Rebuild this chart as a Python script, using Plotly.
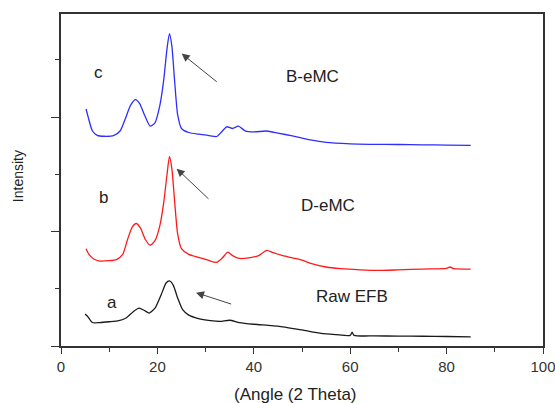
import plotly.graph_objects as go

# XRD patterns: diffraction angle (2 theta, degrees) vs offset intensity (a.u.)
raw_x = [5.0, 5.5, 6.5, 8, 10, 12, 13.5, 15, 16.2, 17.3, 18.3, 19.5, 20.8, 21.8, 22.5,
         23.3, 24.2, 25.2, 26.5, 28.5, 31, 33, 35, 37, 40, 43, 46, 50, 54, 57, 60,
         60.4, 60.8, 65, 70, 75, 80, 85]
raw_y = [0.28, 0.26, 0.205, 0.205, 0.212, 0.222, 0.245, 0.30, 0.33, 0.31, 0.288, 0.33,
         0.45, 0.55, 0.568, 0.53, 0.42, 0.32, 0.27, 0.24, 0.222, 0.215, 0.225, 0.205,
         0.19, 0.18, 0.168, 0.14, 0.11, 0.10, 0.093, 0.12, 0.093, 0.088, 0.087, 0.085,
         0.083, 0.08]

d_x = [5.2, 5.8, 6.8, 8, 10, 11.5, 12.8, 13.8, 14.8, 15.6, 16.5, 17.5, 18.5, 19.5, 20.5,
       21.3, 22.0, 22.5, 23.0, 23.6, 24.2, 25, 26.5, 28.5, 30.5, 32.3, 33.5, 34.6, 35.6,
       37, 39, 41, 42.7, 44, 46, 48, 50, 52, 55, 58, 62, 66, 70, 75, 80, 80.7, 81.5, 85]
d_y = [0.85, 0.80, 0.76, 0.742, 0.745, 0.755, 0.80, 0.93, 1.04, 1.07, 1.03, 0.93, 0.88,
       0.92, 1.05, 1.25, 1.50, 1.657, 1.55, 1.25, 0.98, 0.85, 0.80, 0.775, 0.75, 0.73,
       0.77, 0.82, 0.79, 0.765, 0.77, 0.79, 0.835, 0.815, 0.79, 0.77, 0.75, 0.72, 0.69,
       0.675, 0.665, 0.66, 0.665, 0.672, 0.678, 0.69, 0.675, 0.672]

b_x = [5.2, 5.7, 6.5, 7.5, 9, 11, 12.3, 13.3, 14.4, 15.4, 16.3, 17.3, 18.5, 19.5, 20.5,
       21.3, 22.0, 22.5, 23.0, 23.6, 24.2, 25, 26.5, 28.5, 30.5, 32.3, 33.3, 34.4, 35.6,
       36.8, 38.2, 40, 42.7, 45, 48, 51.7, 55, 60, 64, 70, 75, 80, 85]
b_y = [2.07, 1.99, 1.88, 1.84, 1.832, 1.84, 1.88, 1.98, 2.10, 2.152, 2.12, 2.02, 1.92,
       1.95, 2.10, 2.32, 2.60, 2.728, 2.62, 2.30, 2.02, 1.90, 1.865, 1.85, 1.84, 1.83,
       1.87, 1.915, 1.90, 1.92, 1.88, 1.87, 1.878, 1.86, 1.835, 1.80, 1.778, 1.766,
       1.762, 1.76, 1.757, 1.755, 1.753]

x_ticks = [0, 20, 40, 60, 80, 100]

fig = go.Figure()
for xs, ys, col in [(raw_x, raw_y, "#1a1a1a"), (d_x, d_y, "#ff1a1a"), (b_x, b_y, "#2e2eff")]:
    fig.add_trace(go.Scatter(x=xs, y=ys, mode="lines",
                             line=dict(color=col, width=1.3, shape="spline", smoothing=0.6),
                             showlegend=False, hoverinfo="skip"))

FAMILY = "Liberation Sans, Arial, sans-serif"
label_font = dict(family=FAMILY, size=17, color="#222")
annotations = []
# curve letters and sample names
for x, y, t in [(7.68, 2.39, "c"), (8.92, 1.30, "b"), (10.58, 0.376, "a"),
                (52.1, 2.355, "B-eMC"), (55.4, 1.229, "D-eMC"), (60.4, 0.434, "Raw EFB")]:
    annotations.append(dict(x=x, y=y, text=t, showarrow=False, font=label_font,
                            xanchor="center", yanchor="middle"))
# arrows pointing to the crystalline peak near 22.5 deg
for hx, hy, tx, ty in [(25.04, 2.554, 32.63, 2.297), (24.0, 1.549, 30.91, 1.273),
                       (28.01, 0.466, 35.62, 0.362)]:
    annotations.append(dict(x=hx, y=hy, ax=tx, ay=ty, xref="x", yref="y",
                            axref="x", ayref="y", text="", showarrow=True,
                            arrowhead=2, arrowsize=1.6, arrowwidth=1,
                            arrowcolor="#444"))
# axis titles
annotations.append(dict(x=(18 - 61) / 482, y=(345.7 - 176) / 331.7, xref="paper",
                        yref="paper", text="Intensity", textangle=-90, showarrow=False,
                        font=dict(family=FAMILY, size=14, color="#222"),
                        xanchor="center", yanchor="middle"))
annotations.append(dict(x=(295 - 61) / 482, y=(345.7 - 394) / 331.7, xref="paper",
                        yref="paper", text="(Angle (2 Theta)", showarrow=False,
                        font=dict(family=FAMILY, size=17, color="#222"),
                        xanchor="center", yanchor="middle"))

fig.update_layout(
    width=555, height=403,
    margin=dict(l=61, r=12, t=14, b=57, autoexpand=False),
    paper_bgcolor="white", plot_bgcolor="white",
    font=dict(family=FAMILY, size=15, color="#333"),
    annotations=annotations,
)
fig.update_xaxes(range=[0, 100], tickvals=x_ticks, ticks="outside", ticklen=6,
                 tickwidth=1.2, tickcolor="#333", automargin=False,
                 ticklabeloverflow="allow",
                 minor=dict(dtick=10, ticks="outside", ticklen=4, tickcolor="#333", tickwidth=1.2),
                 showline=True, linecolor="#333", linewidth=1.5, mirror=True,
                 showgrid=False, zeroline=False, tickfont=dict(size=15, color="#333"))
fig.update_yaxes(range=[0, 2.9], tickvals=[0, 1, 2], ticks="outside", ticklen=8,
                 tickwidth=1.2, tickcolor="#333", showticklabels=False, automargin=False,
                 minor=dict(dtick=0.5, ticks="outside", ticklen=4, tickcolor="#333", tickwidth=1.2),
                 showline=True, linecolor="#333", linewidth=1.5, mirror=True,
                 showgrid=False, zeroline=False)

fig.write_html("out.html")
